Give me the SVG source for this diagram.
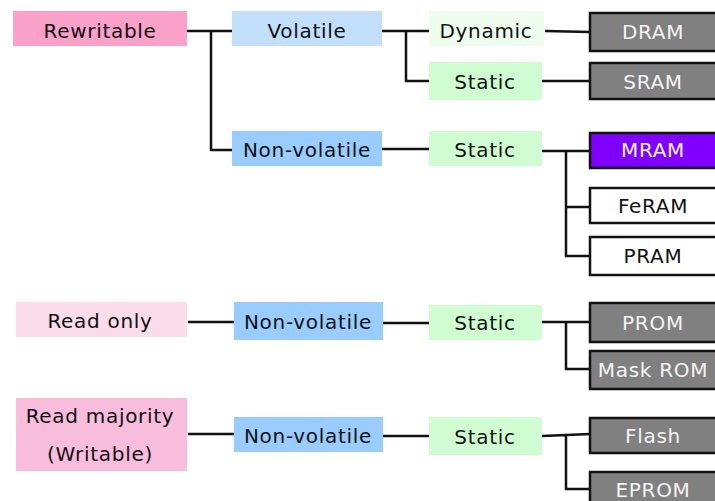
<svg xmlns="http://www.w3.org/2000/svg" width="715" height="501" viewBox="0 0 715 501">
<style>
text{font-family:"DejaVu Sans",Verdana,sans-serif;font-size:20px;letter-spacing:0.7px;text-anchor:middle;fill:#111}
.chip{fill:#808080;stroke:#111;stroke-width:2.5}
.light{fill:#f4f4f4}
.wh{fill:#fff;stroke:#111;stroke-width:2.5}
.conn{fill:none;stroke:#111;stroke-width:2.5}
</style>
<rect width="715" height="501" fill="#fff"/>
<g id="connectors" class="conn">
<path d="M187 31H232M211 31V150H232"/>
<path d="M382 31H429M406 31V81H429"/>
<path d="M545 31L590 32"/>
<path d="M542 81H590"/>
<path d="M382 149H429"/>
<path d="M542 151H590M566 151V256H590M566 207H590"/>
<path d="M188 322H234"/>
<path d="M383 323H429"/>
<path d="M542 322H590M566 322V369H590"/>
<path d="M188 434H234"/>
<path d="M383 436H429"/>
<path d="M542 436L590 434M566 436V489H590"/>
</g>
<g id="rewritable"><rect x="13" y="11" width="174" height="35" fill="#f9a1c9"/><text x="100" y="38">Rewritable</text></g>
<g id="volatile"><rect x="232" y="11" width="150" height="35" fill="#c2dffc"/><text x="307" y="38">Volatile</text></g>
<g id="nonvolatile1"><rect x="232" y="131" width="150" height="35" fill="#99ccff"/><text x="307" y="157">Non-volatile</text></g>
<g id="dynamic"><rect x="429" y="11" width="115" height="35" fill="#effdee"/><text x="486" y="38">Dynamic</text></g>
<g id="static1"><rect x="429" y="62" width="113" height="38" fill="#d0fcd2"/><text x="485" y="89">Static</text></g>
<g id="static2"><rect x="429" y="131" width="113" height="35" fill="#d0fcd2"/><text x="485" y="157">Static</text></g>
<g id="dram"><rect class="chip" x="590" y="13" width="127" height="38"/><text class="light" x="653" y="39">DRAM</text></g>
<g id="sram"><rect class="chip" x="590" y="63" width="127" height="36"/><text class="light" x="653" y="89">SRAM</text></g>
<g id="mram"><rect x="590" y="133" width="127" height="35" fill="#7f00ff" stroke="#111" stroke-width="2.5"/><text class="light" x="653" y="157">MRAM</text></g>
<g id="feram"><rect class="wh" x="590" y="188" width="127" height="35"/><text x="653" y="213">FeRAM</text></g>
<g id="pram"><rect class="wh" x="590" y="237" width="127" height="38"/><text x="653" y="263">PRAM</text></g>
<g id="readonly"><rect x="16" y="302" width="171" height="35" fill="#fadcea"/><text x="100" y="328">Read only</text></g>
<g id="nonvolatile2"><rect x="234" y="302" width="149" height="38" fill="#99ccff"/><text x="308" y="329">Non-volatile</text></g>
<g id="static3"><rect x="429" y="305" width="113" height="35" fill="#d0fcd2"/><text x="485" y="330">Static</text></g>
<g id="prom"><rect class="chip" x="590" y="303" width="127" height="39"/><text class="light" x="653" y="330">PROM</text></g>
<g id="maskrom"><rect class="chip" x="590" y="351" width="127" height="38"/><text class="light" x="653" y="377">Mask ROM</text></g>
<g id="readmajority"><rect x="16" y="398" width="171" height="73" fill="#f8bcdc"/><text x="100" y="423">Read majority</text><text x="100" y="461">(Writable)</text></g>
<g id="nonvolatile3"><rect x="234" y="417" width="149" height="35" fill="#99ccff"/><text x="308" y="443">Non-volatile</text></g>
<g id="static4"><rect x="429" y="417" width="113" height="38" fill="#d0fcd2"/><text x="485" y="444">Static</text></g>
<g id="flash"><rect class="chip" x="590" y="418" width="127" height="35"/><text class="light" x="653" y="443">Flash</text></g>
<g id="eprom"><rect class="chip" x="590" y="472" width="127" height="36"/><text class="light" x="653" y="497">EPROM</text></g>
</svg>
